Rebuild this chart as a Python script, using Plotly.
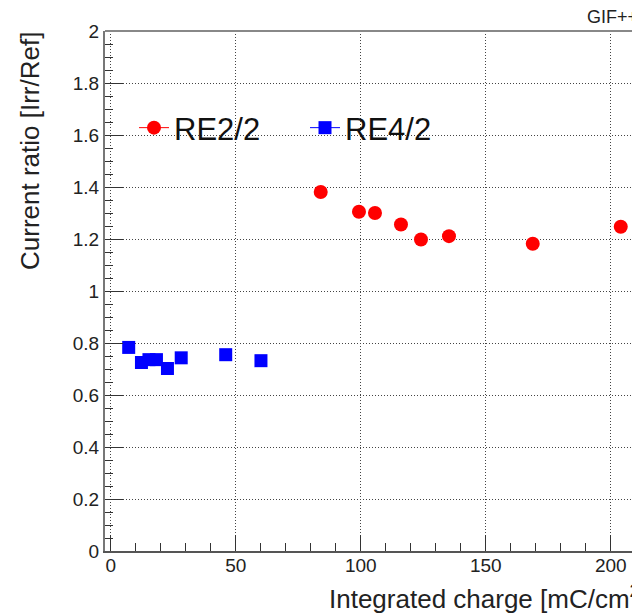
import plotly.graph_objects as go

# Data
re22_charge = [84.0, 99.3, 105.7, 116.1, 124.1, 135.3, 168.8, 204.0]
re22_ratio = [1.381, 1.305, 1.300, 1.256, 1.198, 1.211, 1.182, 1.247]

re42_charge = [7.2, 12.3, 15.3, 18.3, 22.7, 28.2, 46.0, 60.1]
re42_ratio = [0.783, 0.725, 0.736, 0.736, 0.702, 0.743, 0.755, 0.732]

x_ticks = [0, 50, 100, 150, 200]
y_ticks = [0, 0.2, 0.4, 0.6, 0.8, 1.0, 1.2, 1.4, 1.6, 1.8, 2.0]
y_tick_labels = ["0", "0.2", "0.4", "0.6", "0.8", "1", "1.2", "1.4", "1.6", "1.8", "2"]

FONT = "Liberation Sans, Arial, Helvetica, sans-serif"
RED = "#ff0000"
BLUE = "#0000ff"

# page body has an 8px margin; figure is sized to fill the rest of the window
W, H = 632, 606
L, T, B = 97, 23, 63
PW, PH = W - L, H - T - B


def px(xp):  # window x pixel -> paper x
    return (xp - 8 - L) / PW


def py(yp):  # window y pixel -> paper y
    return (H - B - (yp - 8)) / PH


fig = go.Figure()

fig.add_trace(go.Scatter(x=re22_charge, y=re22_ratio, mode="markers", showlegend=False,
                         marker=dict(symbol="circle", size=14, color=RED)))
fig.add_trace(go.Scatter(x=re42_charge, y=re42_ratio, mode="markers", showlegend=False,
                         marker=dict(symbol="square", size=13, color=BLUE)))
# legend-only entries (marker with horizontal line, ROOT style)
fig.add_trace(go.Scatter(x=[None], y=[None], mode="lines+markers", name="RE2/2",
                         line=dict(color=RED, width=1),
                         marker=dict(symbol="circle", size=14, color=RED)))
fig.add_trace(go.Scatter(x=[None], y=[None], mode="lines+markers", name="RE4/2",
                         line=dict(color=BLUE, width=1),
                         marker=dict(symbol="square", size=13, color=BLUE)))

grid_dash = "1px,2px"

fig.update_layout(
    width=W, height=H,
    margin=dict(l=L, r=0, t=T, b=B),
    paper_bgcolor="white", plot_bgcolor="white",
    font=dict(family=FONT, color="#222"),
    legend=dict(orientation="h", x=px(134), xanchor="left", y=py(128), yanchor="middle",
                font=dict(size=31, family=FONT, color="#111"),
                bgcolor="rgba(0,0,0,0)", borderwidth=0,
                entrywidth=126, entrywidthmode="pixels", tracegroupgap=0),
    xaxis=dict(range=[-2.28, 211.7], tickvals=x_ticks, showgrid=True,
               gridcolor="#444", griddash=grid_dash, gridwidth=1, zeroline=False,
               showline=True, linecolor="#555", linewidth=2,
               ticks="inside", ticklen=16, tickcolor="#333", tickwidth=1,
               ticklabelstandoff=-4,
               tickfont=dict(size=19, family=FONT, color="#222"),
               minor=dict(ticks="inside", ticklen=8, dtick=10, tick0=0,
                          tickcolor="#333", showgrid=False)),
    yaxis=dict(range=[0, 2.0], tickvals=y_ticks, ticktext=y_tick_labels, showgrid=True,
               gridcolor="#444", griddash=grid_dash, gridwidth=1, zeroline=False,
               showline=True, linecolor="#777", linewidth=2,
               ticks="inside", ticklen=18, tickcolor="#333", tickwidth=1,
               tickfont=dict(size=19, family=FONT, color="#222"),
               minor=dict(ticks="inside", ticklen=8, dtick=0.05, tick0=0,
                          tickcolor="#333", showgrid=False)),
)

# top frame line
fig.add_shape(type="line", xref="paper", yref="paper", x0=0, x1=1, y0=1, y1=1,
              line=dict(color="#888", width=2))

fig.add_annotation(text="Current ratio [Irr/Ref]", textangle=-90, showarrow=False,
                   xref="paper", yref="paper", x=px(30), y=py(151),
                   xanchor="center", yanchor="middle",
                   font=dict(size=26, family=FONT, color="#222"))
fig.add_annotation(text="Integrated charge [mC/cm<sup>2</sup>]", showarrow=False,
                   xref="paper", yref="paper", x=px(327), y=py(597),
                   xanchor="left", yanchor="middle",
                   font=dict(size=26, family=FONT, color="#222"))
fig.add_annotation(text="GIF++", showarrow=False,
                   xref="paper", yref="paper", x=px(585), y=py(17),
                   xanchor="left", yanchor="middle",
                   font=dict(size=18, family=FONT, color="#222"))

fig.write_html("out.html")
